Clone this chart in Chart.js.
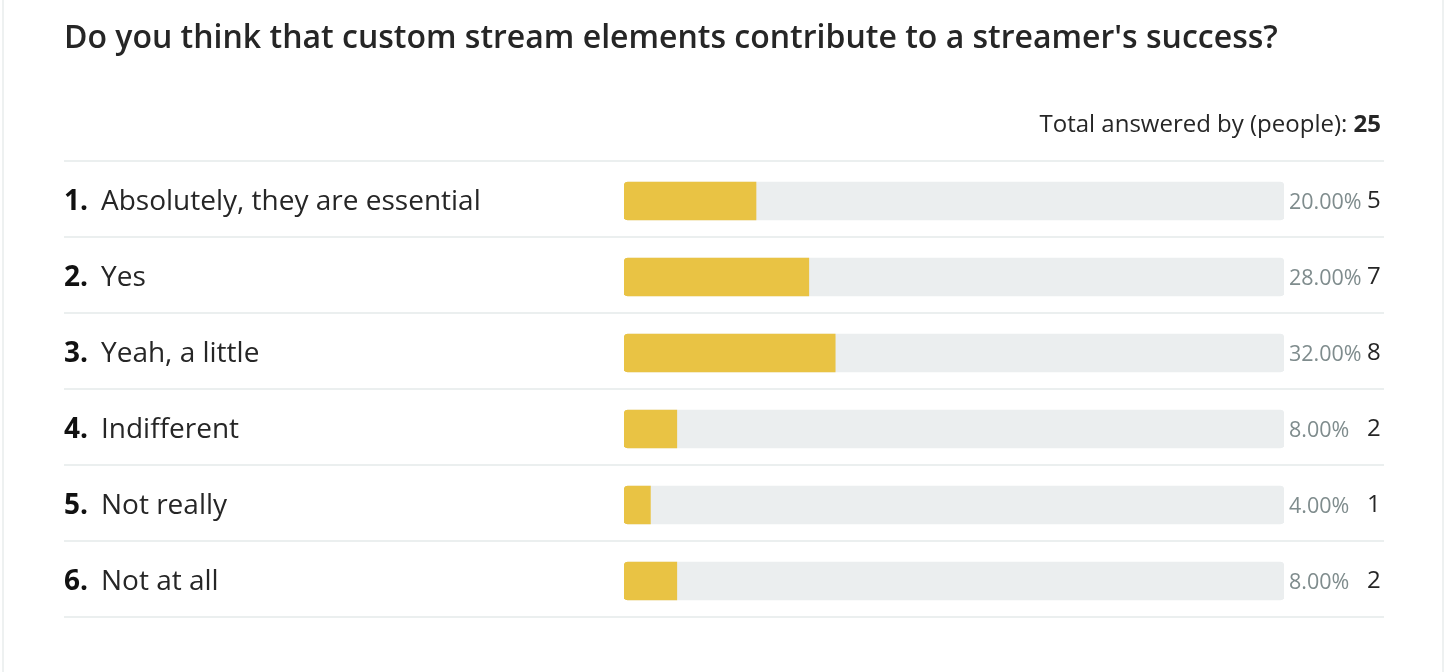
<!DOCTYPE html>
<html>
<head>
<meta charset="utf-8">
<script src="https://cdn.jsdelivr.net/npm/chart.js@4.4.0/dist/chart.umd.min.js"></script>
<style>
  html, body { margin: 0; padding: 0; background: #ffffff; }
  body { width: 1448px; height: 672px; position: relative; overflow: hidden; font-family: 'Open Sans', sans-serif; }
  .frame { position: absolute; left: 2px; top: 0; width: 1438px; height: 672px; border-left: 2px solid #eef1f1; border-right: 2px solid #eef1f1; }
  #title { position: absolute; left: 64px; top: 20px; margin: 0; font-size: 32px; line-height: 1; font-weight: 600; color: #262626; white-space: nowrap; }
  #total { position: absolute; right: 67px; top: 111px; font-size: 24px; line-height: 1; color: #262626; white-space: nowrap; }
  #total b { font-weight: 700; }
  #chart { position: absolute; left: 0; top: 0; }
</style>
</head>
<body>
<div class="frame"></div>
<canvas id="chart" width="1448" height="672"></canvas>
<h1 id="title">Do you think that custom stream elements contribute to a streamer's success?</h1>
<div id="total">Total answered by (people): <b id="totalNum"></b></div>
<script>
const categories = ['Absolutely, they are essential', 'Yes', 'Yeah, a little', 'Indifferent', 'Not really', 'Not at all'];
const counts = [5, 7, 8, 2, 1, 2];
const percents = [20, 28, 32, 8, 4, 8];
const totalAnswered = 25;
const scaleMax = 100;

document.getElementById('totalNum').textContent = String(totalAnswered);

const rowLabelsPlugin = {
  id: 'rowLabels',
  afterDatasetsDraw(chart) {
    const ctx = chart.ctx;
    const y = chart.scales.y;
    ctx.save();
    const band = 76;
    for (let i = 0; i < categories.length; i++) {
      const cy = y.getPixelForValue(i);
      // separator above
      ctx.fillStyle = '#ebefef';
      ctx.fillRect(64, Math.round(cy - band / 2 - 2) - 1, 1320, 2);
      if (i === categories.length - 1) {
        ctx.fillRect(64, Math.round(cy + band / 2 - 2) - 1, 1320, 2);
      }
      // number
      ctx.textBaseline = 'alphabetic';
      ctx.textAlign = 'left';
      ctx.fillStyle = '#111111';
      ctx.font = '700 28px "Open Sans"';
      ctx.fillText((i + 1) + '.', 64, cy + 9);
      ctx.fillStyle = '#262626';
      ctx.font = '400 28px "Open Sans"';
      ctx.fillText(categories[i], 101, cy + 9);
      // percent
      ctx.fillStyle = '#7f8c8d';
      ctx.font = '400 21.5px "Open Sans"';
      ctx.fillText(percents[i].toFixed(2) + '%', 1289, cy + 8);
      // count
      ctx.fillStyle = '#262626';
      ctx.font = '400 24px "Open Sans"';
      ctx.fillText(String(counts[i]), 1367, cy + 7);
    }
    ctx.restore();
  }
};

new Chart(document.getElementById('chart'), {
  type: 'bar',
  data: {
    labels: categories,
    datasets: [
      {
        data: percents,
        backgroundColor: '#e9c344',
        borderRadius: 4,
        borderSkipped: 'end',
        barThickness: 38,
        grouped: false,
        order: 0
      },
      {
        data: categories.map(() => scaleMax),
        backgroundColor: '#ebeeef',
        borderRadius: 4,
        borderSkipped: false,
        barThickness: 38,
        grouped: false,
        order: 1
      }
    ]
  },
  options: {
    indexAxis: 'y',
    responsive: false,
    animation: false,
    layout: { padding: { left: 624, right: 164, top: 163, bottom: 53 } },
    scales: {
      x: { display: false, min: 0, max: scaleMax },
      y: { display: false }
    },
    plugins: { legend: { display: false }, tooltip: { enabled: false } }
  },
  plugins: [rowLabelsPlugin]
});
</script>
</body>
</html>
